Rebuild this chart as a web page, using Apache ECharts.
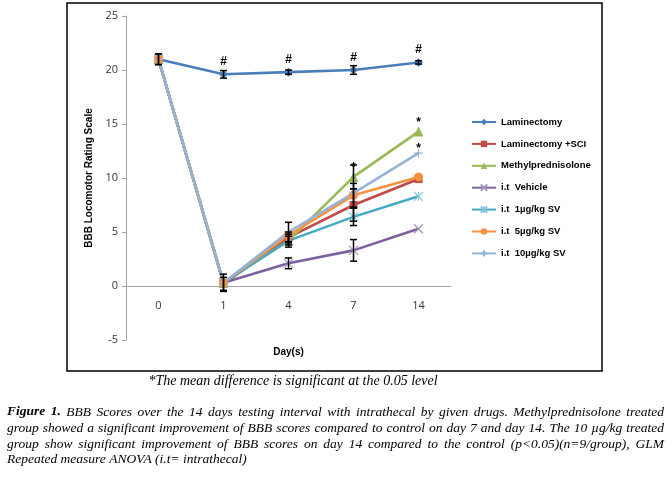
<!DOCTYPE html>
<html>
<head>
<meta charset="utf-8">
<script src="https://cdn.jsdelivr.net/npm/echarts@6/dist/echarts.min.js"></script>
<style>
html,body{margin:0;padding:0;background:#fff;}
#chart{width:672px;height:478px;}
</style>
</head>
<body>
<div id="chart"></div>
<script>
// ---------- data ----------
const days = ['0', '1', '4', '7', '14'];
const yTicks = [-5, 0, 5, 10, 15, 20, 25];
const seriesNames = ['Laminectomy', 'Laminectomy +SCI', 'Methylprednisolone', 'i.t  Vehicle', 'i.t  1µg/kg SV', 'i.t  5µg/kg SV', 'i.t  10µg/kg SV'];

const laminectomy    = [21.0, 19.6, 19.8, 20.0, 20.7];
const laminectomySCI = [21.0, 0.2, 4.5, 7.5, 9.9];
const methylpred     = [21.0, 0.3, 4.2, 10.1, 14.3];
const vehicle        = [21.0, 0.3, 2.1, 3.3, 5.3];
const sv1            = [21.0, 0.3, 4.2, 6.4, 8.3];
const sv5            = [21.0, 0.3, 4.7, 8.4, 10.1];
const sv10           = [21.0, 0.3, 5.0, 8.6, 12.3];

// error (+/-) values, null = not drawn
const laminectomyErr    = [0.5, 0.35, 0.2, 0.4, 0.15];
const laminectomySCIErr = [null, 0.6, 0.5, 1.5, null];
const methylpredErr     = [null, null, 0.4, 1.1, null];
const vehicleErr        = [null, 0.8, 0.5, 1.0, null];
const sv1Err            = [null, null, 0.6, 0.8, null];
const sv5Err            = [0.5, null, null, 1.1, null];
const sv10Err           = [null, null, 0.9, null, null];

// significance marks
const laminectomyMarks = ['', '#', '#', '#', '#'];
const methylpredMarks  = ['', '', '', '*', '*'];
const sv10Marks        = ['', '', '', '', '*'];

const footnote = '*The mean difference is significant at the 0.05 level';
const captionLines = [
  'Figure 1. BBB Scores over the 14 days testing interval with intrathecal by given drugs. Methylprednisolone treated',
  'group showed a significant improvement of BBB scores compared to control on day 7 and day 14. The 10 µg/kg treated',
  'group show significant improvement of BBB scores on day 14 compared to the control (p<0.05)(n=9/group), GLM',
  'Repeated measure ANOVA (i.t= intrathecal)'
];

// ---------- styles ----------
const colors = ['#4A7EBB', '#BE4B48', '#98B954', '#7D60A0', '#46AAC5', '#F69240', '#95B3D7'];
const markerColors = ['#4A7EBB', '#BE4B48', '#98B954', '#A496BC', '#86C9DD', '#F69240', '#95B3D7'];
const symbols = [
  'diamond', 'rect', 'triangle',
  'path://M0,0L10,10M10,0L0,10',
  'path://M0,0L10,10M10,0L0,10M5,0L5,10',
  'circle',
  'path://M5,0L5,10M0,5L10,5'
];
const symbolSizes = [9, 8, 10, 9, 9, 9, 9];
const markOffsets = [[0, 0], null, [0, 4], null, null, null, [0, 9]];
const values = [laminectomy, laminectomySCI, methylpred, vehicle, sv1, sv5, sv10];
const errs = [laminectomyErr, laminectomySCIErr, methylpredErr, vehicleErr, sv1Err, sv5Err, sv10Err];
const marks = [laminectomyMarks, null, methylpredMarks, null, null, null, sv10Marks];

const chart = echarts.init(document.getElementById('chart'));

const series = [];
values.forEach(function (vals, si) {
  const strokeSym = symbols[si].indexOf('path://') === 0;
  series.push({
    name: seriesNames[si],
    type: 'line',
    data: vals.map(function (v, i) {
      const m = marks[si] ? marks[si][i] : '';
      const item = { value: v };
      if (m) {
        item.label = { show: true, formatter: m, position: 'top', distance: 2, offset: markOffsets[si],
          fontFamily: 'Liberation Sans', fontWeight: 'bold', fontSize: 12, color: '#000' };
      }
      return item;
    }),
    symbol: symbols[si],
    symbolSize: symbolSizes[si],
    showAllSymbol: true,
    lineStyle: { color: colors[si], width: 2.6 },
    itemStyle: strokeSym ? { color: markerColors[si], borderColor: markerColors[si], borderWidth: 1.2 } : { color: markerColors[si], borderWidth: 0 },
    emphasis: { disabled: true },
    animation: false,
    z: 2
  });
});

// error bars
const errData = [];
values.forEach(function (vals, si) {
  errs[si].forEach(function (e, i) {
    if (e !== null) errData.push([i, vals[i] - e, vals[i] + e]);
  });
});
series.push({
  name: 'err',
  type: 'custom',
  data: errData,
  z: 3,
  animation: false,
  silent: true,
  encode: { x: 0, y: [1, 2] },
  renderItem: function (params, api) {
    const lo = api.coord([api.value(0), api.value(1)]);
    const hi = api.coord([api.value(0), api.value(2)]);
    const w = 3.5;
    const st = { stroke: '#000', lineWidth: 1.5 };
    return {
      type: 'group',
      children: [
        { type: 'line', shape: { x1: lo[0], y1: lo[1], x2: hi[0], y2: hi[1] }, style: st },
        { type: 'line', shape: { x1: lo[0] - w, y1: lo[1], x2: lo[0] + w, y2: lo[1] }, style: st },
        { type: 'line', shape: { x1: hi[0] - w, y1: hi[1], x2: hi[0] + w, y2: hi[1] }, style: st }
      ]
    };
  }
});

// ---------- caption text (justified) ----------
const capFont = 13.5;
const capFamily = 'Liberation Serif';
const ctx = document.createElement('canvas').getContext('2d');
function fontOf(bold) { return 'italic ' + (bold ? 'bold ' : '') + capFont + 'px "' + capFamily + '"'; }
function measure(t, bold) { ctx.font = fontOf(bold); return ctx.measureText(t).width; }
const capLeft = 7, capRight = 664;
const capY = [412, 428, 444, 459];
const graphics = [];
captionLines.forEach(function (line, li) {
  const words = line.split(/\s+/).map(function (w, wi) { return { t: w, b: li === 0 && wi < 2 }; });
  const justify = li < 3;
  let total = 0;
  words.forEach(function (w) { w.w = measure(w.t, w.b); total += w.w; });
  const gap = justify ? (capRight - capLeft - total) / (words.length - 1) : measure(' ', false);
  let x = capLeft;
  words.forEach(function (w) {
    graphics.push({
      type: 'text', x: x, y: capY[li], silent: true,
      style: { text: w.t, font: fontOf(w.b), fill: '#000', textVerticalAlign: 'middle' }
    });
    x += w.w + gap;
  });
});
graphics.push({
  type: 'text', x: 293, y: 381, silent: true,
  style: { text: footnote, font: 'italic 14px "Liberation Serif"', fill: '#000', textAlign: 'center', textVerticalAlign: 'middle' }
});
graphics.push({
  type: 'rect', shape: { x: 67, y: 3, width: 535, height: 368 }, silent: true, z: -1,
  style: { fill: 'none', stroke: '#000', lineWidth: 1.5 }
});

chart.setOption({
  backgroundColor: '#fff',
  animation: false,
  color: colors,
  grid: { left: 126, right: 221, top: 16, bottom: 138, containLabel: false },
  legend: {
    data: seriesNames,
    orient: 'vertical',
    left: 466, top: 112,
    itemWidth: 24, itemHeight: 8, itemGap: 11.9,
    selectedMode: false,
    textStyle: { fontFamily: 'Liberation Sans', fontWeight: 'bold', fontSize: 9.5, color: '#000' }
  },
  xAxis: {
    type: 'category',
    data: days,
    boundaryGap: true,
    offset: -54,
    name: 'Day(s)',
    nameLocation: 'middle',
    nameGap: 61,
    nameTextStyle: { fontFamily: 'Liberation Sans', fontWeight: 'bold', fontSize: 10, color: '#000' },
    axisLine: { onZero: false, lineStyle: { color: '#A6A6A6', width: 1 } },
    axisTick: { show: false },
    axisLabel: { margin: 14, fontFamily: 'Open Sans', fontSize: 11, color: '#333' },
    splitLine: { show: false }
  },
  yAxis: {
    type: 'value',
    min: -5, max: 25, interval: 5,
    name: 'BBB Locomotor Rating Scale',
    nameLocation: 'middle',
    nameGap: 32,
    nameTextStyle: { fontFamily: 'Liberation Sans', fontWeight: 'bold', fontSize: 10, color: '#000' },
    axisLine: { show: true, lineStyle: { color: '#A6A6A6', width: 1 } },
    axisTick: { show: true, inside: false, length: 4, lineStyle: { color: '#A6A6A6' } },
    axisLabel: { margin: 8, fontFamily: 'Open Sans', fontSize: 11, color: '#333',
      formatter: function (v) { return yTicks.indexOf(v) >= 0 ? String(v) : ''; } },
    splitLine: { show: false }
  },
  graphic: graphics,
  series: series
});
</script>
</body>
</html>
